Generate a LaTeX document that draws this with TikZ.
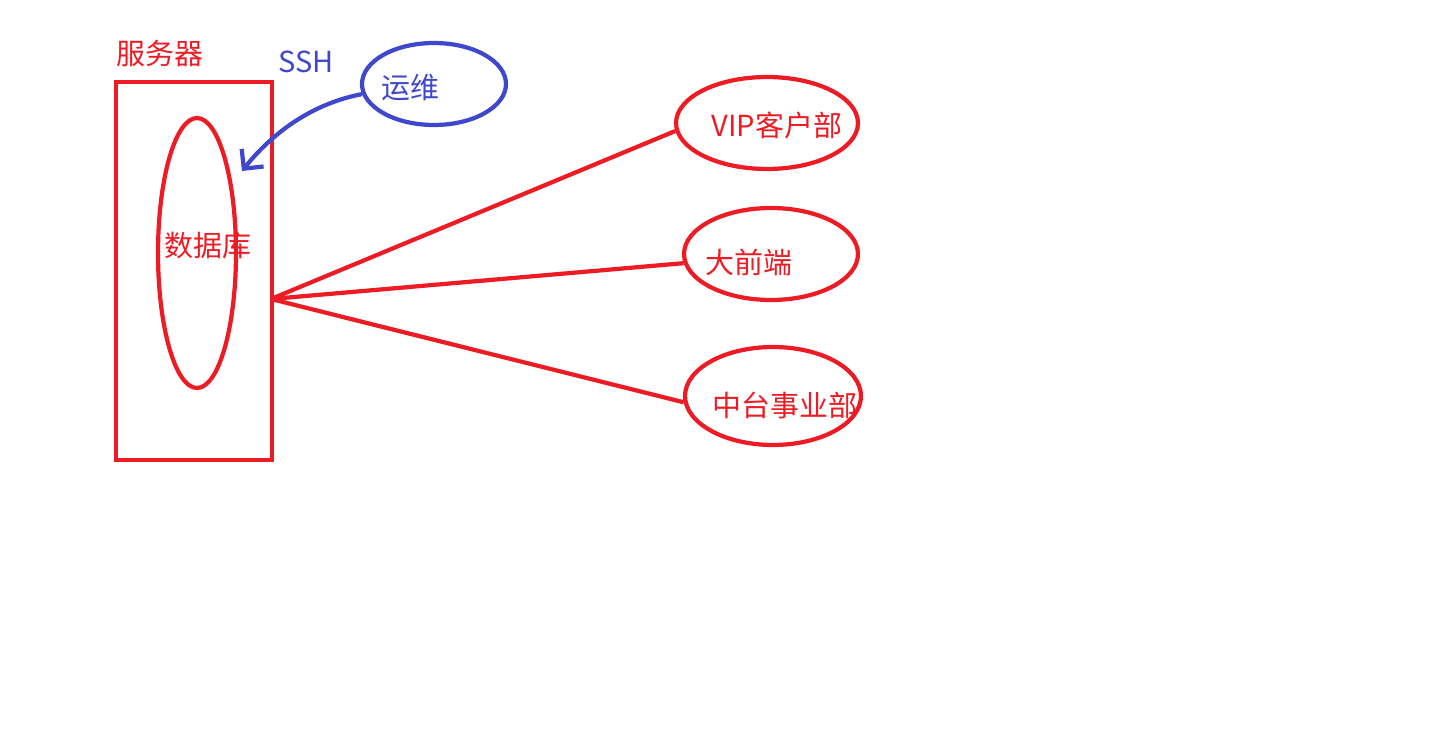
\documentclass[tikz,border=0pt]{standalone}
\usepackage{fontspec}
\setmainfont{Noto Sans CJK SC}
\usetikzlibrary{shapes.geometric,arrows.meta}
\definecolor{pred}{HTML}{ED1C24}
\definecolor{pblue}{HTML}{3F48CC}

\begin{document}
\begin{tikzpicture}[x=0.02cm,y=-0.02cm,line width=2.4pt,
  every path/.style={>={Straight Barb[length=8pt,width=16pt]}},
  every node/.style={font=\fontsize{16.5}{18}\selectfont,inner sep=0pt},
  oval/.style={draw=pred,ellipse},
  rtxt/.style={text=pred},
  btxt/.style={text=pblue}]
\useasboundingbox (0,0) rectangle (1434,736);
\node[draw=pred,rectangle,minimum width=3.12cm,minimum height=7.56cm] (server) at (194,271) {};
\node[rtxt]                                        at (160,53)  {服务器};
\node[oval,minimum width=1.56cm,minimum height=5.4cm]  (db)  at (197,253) {};
\node[rtxt]                                        at (208,246) {数据库};
\node[oval,draw=pblue,minimum width=2.88cm,minimum height=1.64cm] (ops) at (434,84) {};
\node[btxt]                                        at (410,88)  {运维};
\node[btxt]                                        at (306,62)  {SSH};
\node[oval,minimum width=3.64cm,minimum height=1.84cm] (vip) at (767,123) {};
\node[rtxt]                                        at (777,125) {VIP客户部};
\node[oval,minimum width=3.48cm,minimum height=1.84cm] (fe)  at (771,254) {};
\node[rtxt]                                        at (749,262) {大前端};
\node[oval,minimum width=3.52cm,minimum height=1.96cm] (mid) at (773,396) {};
\node[rtxt]                                        at (785,405) {中台事业部};
\coordinate (hub) at (271,299);
\draw[pblue,->] (ops.188) .. controls (300,106) and (262,146) .. (242,171);
\draw[pred]     (hub) -- (vip.185);
\draw[pred]     (hub) -- (fe.186);
\draw[pred]     (hub) -- (mid.184);
\end{tikzpicture}
\end{document}
